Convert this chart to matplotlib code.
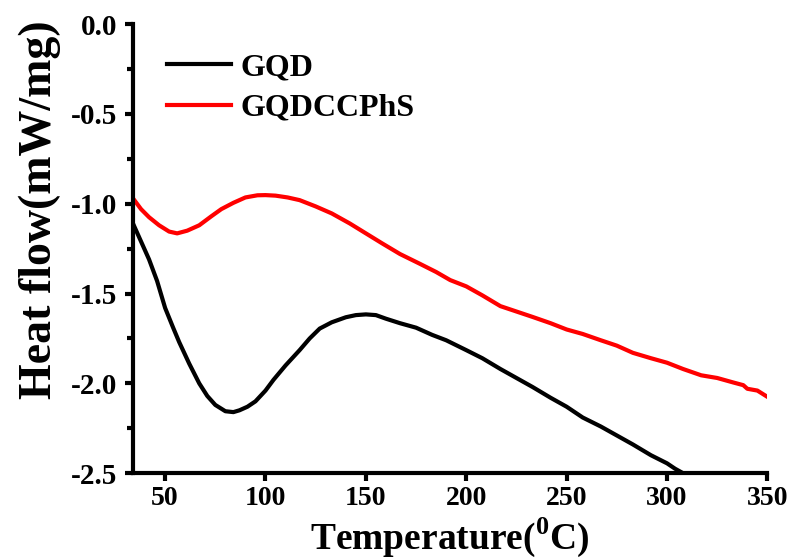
import numpy as np
import matplotlib
matplotlib.use("Agg")
import matplotlib.pyplot as plt

plt.rcParams['font.family'] = ['Liberation Serif', 'DejaVu Serif']
plt.rcParams['font.weight'] = 'bold'
plt.rcParams['mathtext.fontset'] = 'custom'
plt.rcParams['mathtext.rm'] = 'Liberation Serif:bold'
plt.rcParams['mathtext.bf'] = 'Liberation Serif:bold'

# GQD curve
t_gqd = [34, 38, 42, 46, 50, 54, 57, 62, 67, 71, 75, 80, 84, 87, 91, 95, 100, 104,
         110, 117, 122, 127, 133, 140, 145, 150, 155, 160, 167, 175, 183, 190,
         200, 208, 217, 225, 233, 242, 250, 258, 267, 275, 283, 292, 300, 304, 308]
hf_gqd = [-1.11, -1.21, -1.31, -1.43, -1.58, -1.69, -1.77, -1.89, -2.00, -2.07, -2.12,
          -2.155, -2.16, -2.15, -2.13, -2.10, -2.04, -1.98, -1.90, -1.815,
          -1.75, -1.695, -1.66, -1.632, -1.62, -1.616, -1.62, -1.64, -1.665,
          -1.69, -1.73, -1.76, -1.815, -1.86, -1.92, -1.97, -2.02, -2.08,
          -2.13, -2.19, -2.24, -2.29, -2.34, -2.40, -2.445, -2.475, -2.50]

# GQDCCPhS curve
t_red = [34, 38, 42, 47, 52, 56, 61, 67, 73, 78, 84, 90, 96, 100, 105, 111,
         117, 125, 133, 142, 150, 158, 167, 177, 185, 192, 200, 208, 217, 225,
         233, 242, 250, 258, 267, 275, 283, 292, 300, 308, 317, 325, 333, 338,
         340, 345, 350]
hf_red = [-0.97, -1.03, -1.075, -1.12, -1.155, -1.165, -1.15, -1.12, -1.07,
          -1.03, -0.995, -0.965, -0.953, -0.952, -0.955, -0.965, -0.98, -1.015,
          -1.054, -1.11, -1.165, -1.22, -1.28, -1.335, -1.38, -1.425, -1.46,
          -1.51, -1.57, -1.60, -1.63, -1.665, -1.70, -1.725, -1.76, -1.79,
          -1.83, -1.86, -1.885, -1.92, -1.955, -1.97, -1.995, -2.01, -2.03,
          -2.04, -2.075]

fig = plt.figure(figsize=(7.94, 5.6), dpi=100)
ax = fig.add_axes([0.1675, 0.155, 0.799, 0.802])

ax.plot(t_gqd, hf_gqd, color='black', lw=3, label='GQD')
ax.plot(t_red, hf_red, color='#ff0000', lw=3, label='GQDCCPhS')

ax.set_xlim(34, 350)
ax.set_ylim(-2.5, 0.0)
ax.set_xticks([50, 100, 150, 200, 250, 300, 350])
ax.set_yticks([0.0, -0.5, -1.0, -1.5, -2.0, -2.5])
ax.set_yticklabels(['0.0', '-0.5', '-1.0', '-1.5', '-2.0', '-2.5'])
ax.set_yticks(np.arange(-2.25, 0, 0.5), minor=True)

for s in ['top', 'right']:
    ax.spines[s].set_visible(False)
for s in ['left', 'bottom']:
    ax.spines[s].set_linewidth(3)

ax.tick_params(axis='both', which='major', direction='out', length=6,
               width=3, labelsize=21, pad=5)
ax.tick_params(axis='x', which='major', labelsize=20, pad=3)
ax.tick_params(axis='y', which='minor', direction='out', length=4, width=3)

ax.set_xlabel(r'Temperature($^{0}$C)', fontsize=27, fontweight='bold')
ax.xaxis.set_label_coords(0.5, -0.095)
ax.set_ylabel('Heat flow(mW/mg)', fontsize=33, fontweight='bold')
ax.yaxis.set_label_coords(-0.113, 0.586)

ax.legend(loc='upper left', bbox_to_anchor=(0.008, 1.0), frameon=False,
          handlelength=2.0, handletextpad=0.3, labelspacing=0.35,
          prop={'weight': 'bold', 'size': 23})

fig.savefig('out.png', dpi=100)
